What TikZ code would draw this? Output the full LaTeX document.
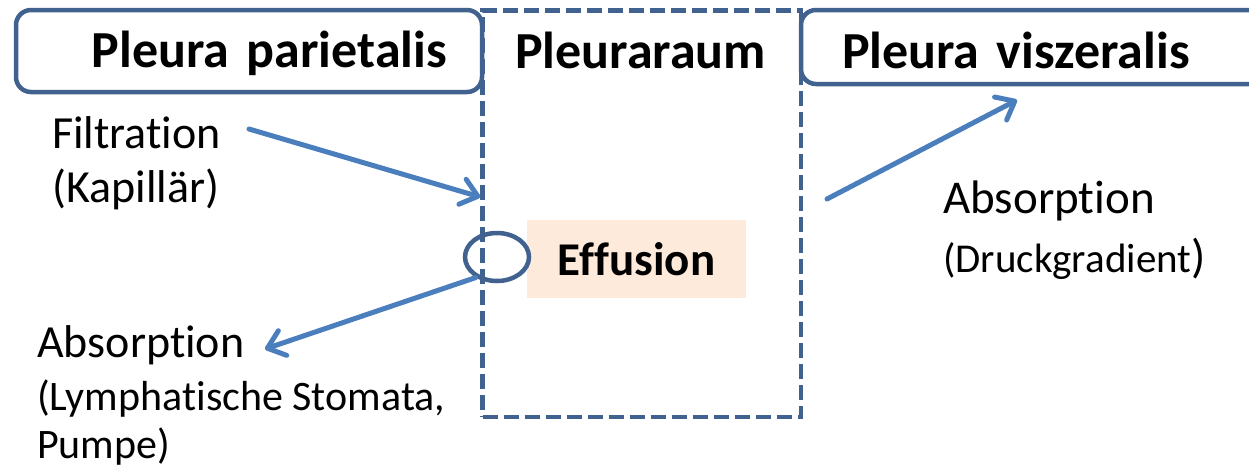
\documentclass[tikz,border=0pt]{standalone}
\usepackage{fontspec}
\setmainfont{Carlito}[Ligatures={NoCommon}]
\usepackage{xcolor}
\usetikzlibrary{
    arrows.meta,
    shapes.geometric
}

\definecolor{pleuraline}{HTML}{41628F}
\definecolor{flowblue}{HTML}{4A7EBD}
\definecolor{effusionfill}{HTML}{FDEADA}

\begin{document}
\begin{tikzpicture}[
    x=1pt, y=-1pt,
    titlebox/.style={
        rectangle,
        rounded corners=15pt,
        draw=pleuraline,
        line width=4.5pt,
        inner ysep=0pt,
        font=\fontsize{52}{60}\selectfont\bfseries
    },
    raumbox/.style={
        rectangle,
        draw=pleuraline,
        line width=4.5pt,
        dash pattern=on 15pt off 6pt,
        minimum width=318.5pt,
        minimum height=406.5pt
    },
    titletext/.style={
        inner sep=0pt,
        font=\fontsize{52}{60}\selectfont\bfseries
    },
    sidetext/.style={
        anchor=base west,
        align=left,
        inner sep=0pt,
        font=\fontsize{46}{54}\selectfont
    },
    flow/.style={
        -{Straight Barb[length=16pt,width=26pt,round]},
        line width=5pt,
        line cap=round,
        draw=flowblue
    }
]

\useasboundingbox (0,0) rectangle (1249,467);
\clip (0,0) rectangle (1249,467);

% =========================================================
% Pleura layers and space in between
% =========================================================
\node[titlebox, minimum width=466pt, minimum height=82pt,
      inner xsep=35pt, text width=396pt, align=right,
      text height=38pt, text depth=6pt] (parietalis) at (249,51)
{Pleura parietalis};

\node[raumbox] (raum) at (641.75,213.75) {};
\node[titletext, anchor=base] (raumtitle) at (640.5,68) {Pleuraraum};

\node[titlebox, minimum width=499pt, minimum height=74pt,
      inner xsep=41pt, text width=417pt, align=left,
      text height=42pt, text depth=0pt] (viszeralis) at (1050.5,47)
{Pleura viszeralis};

% =========================================================
% Effusion and lymphatic stoma
% =========================================================
\node[rectangle, fill=effusionfill, minimum width=219pt, minimum height=78pt,
      font=\fontsize{47}{54}\selectfont\bfseries] (effusion) at (636.5,259)
{Effusion};

\node[ellipse, draw=pleuraline, line width=4.5pt,
      minimum width=64pt, minimum height=48pt] (stomata) at (497,257) {};

% =========================================================
% Labels (anchored at the baseline of their last line)
% =========================================================
\node[sidetext] (filtration) at (52,202)
{Filtration\\(Kapillär)};

\node[sidetext] (lymphabs) at (37,458)
{Absorption\\[-1pt]
 {\fontsize{42}{48}\selectfont(Lymphatische Stomata,}\\[-6pt]
 {\fontsize{42}{48}\selectfont Pumpe)}};

\node[sidetext] (druckabs) at (943,272)
{{\fontsize{47}{54}\selectfont Absorption}\\[5pt]
 {\fontsize{41}{48}\selectfont(Druckgradient}{\fontsize{47}{54}\selectfont)}};

% =========================================================
% Flows
% =========================================================
\coordinate (filtstart) at (249,129);
\coordinate (filtin) at ([yshift=16.75pt]raum.west);
\coordinate (lymphtip) at (265,349);
\coordinate (viszstart) at (827,199);
\coordinate (viszin) at (1017,100);

\draw[flow] (filtstart) -- (filtin);
\draw[flow] (stomata.224) -- (lymphtip);
\draw[flow] (viszstart) -- (viszin);

\end{tikzpicture}
\end{document}
